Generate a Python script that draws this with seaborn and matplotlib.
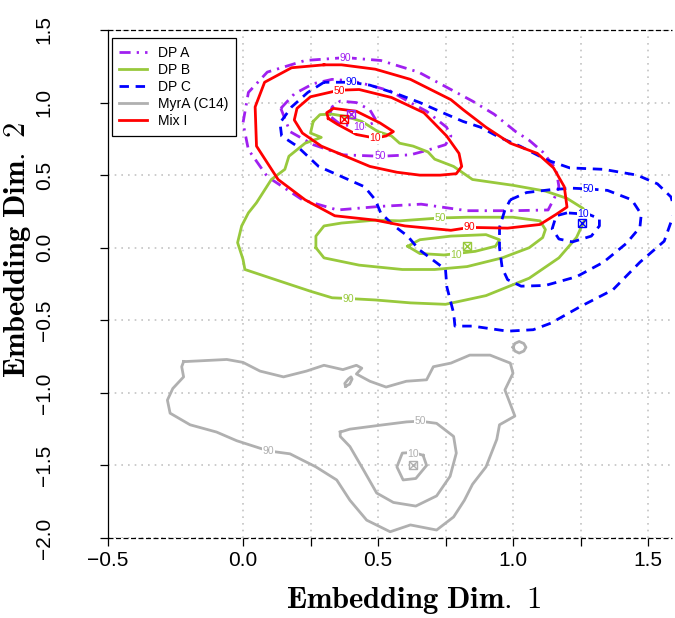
import numpy as np
import pandas as pd
import matplotlib
matplotlib.use("Agg")
import matplotlib.pyplot as plt
from matplotlib.lines import Line2D
import seaborn as sns

# contour outlines (Embedding Dim. 1, Embedding Dim. 2)
dpA_10 = [(0.32, 0.91), (0.33, 0.97), (0.36, 1.01), (0.42, 1.00), (0.47, 0.95), (0.495, 0.87),
          (0.445, 0.83), (0.36, 0.85), (0.32, 0.91)]
dpA_50 = [(0.14, 0.96), (0.174, 0.80), (0.26, 0.71), (0.37, 0.64), (0.51, 0.63), (0.62, 0.64),
          (0.68, 0.67), (0.75, 0.71), (0.77, 0.77), (0.754, 0.83), (0.68, 0.94), (0.62, 1.0),
          (0.545, 1.08), (0.47, 1.12), (0.40, 1.15), (0.33, 1.16), (0.26, 1.13), (0.19, 1.06),
          (0.14, 0.96)]
dpA_90 = [(0.38, 1.31), (0.51, 1.29), (0.65, 1.21), (0.77, 1.09), (0.85, 1.01), (0.93, 0.92),
          (1.01, 0.80), (1.06, 0.74), (1.11, 0.66), (1.16, 0.54), (1.17, 0.42), (1.155, 0.35),
          (1.13, 0.26), (1.0, 0.255), (0.83, 0.255), (0.66, 0.30), (0.51, 0.285), (0.35, 0.26),
          (0.22, 0.33), (0.09, 0.49), (0.02, 0.675), (0.0, 0.86), (0.02, 1.07), (0.09, 1.21),
          (0.23, 1.29), (0.38, 1.31)]

dpB_10 = [(0.61, 0.01), (0.655, 0.055), (0.77, 0.08), (0.90, 0.09), (0.95, 0.055), (0.935, 0.01),
          (0.86, -0.025), (0.745, -0.05), (0.655, -0.04), (0.61, 0.01)]
dpB_50 = [(0.27, 0.0), (0.27, 0.08), (0.30, 0.15), (0.365, 0.17), (0.49, 0.19), (0.58, 0.185),
          (0.73, 0.205), (0.83, 0.21), (1.0, 0.21), (1.10, 0.185), (1.12, 0.125), (1.11, 0.07),
          (1.06, 0.0), (0.96, -0.07), (0.83, -0.13), (0.71, -0.15), (0.59, -0.15), (0.43, -0.12),
          (0.30, -0.07), (0.27, 0.0)]
dpB_90 = [(0.26, 0.87), (0.285, 0.917), (0.33, 0.92), (0.38, 0.905), (0.44, 0.87), (0.50, 0.80),
          (0.55, 0.77), (0.58, 0.72), (0.63, 0.70), (0.685, 0.66), (0.71, 0.61), (0.78, 0.56),
          (0.85, 0.47), (1.0, 0.43), (1.12, 0.39), (1.20, 0.34), (1.26, 0.27), (1.27, 0.21),
          (1.235, 0.07), (1.17, -0.07), (1.06, -0.21), (0.90, -0.33), (0.75, -0.39), (0.62, -0.38),
          (0.49, -0.36), (0.39, -0.35), (0.33, -0.345), (0.25, -0.30), (0.12, -0.22),
          (0.007, -0.15), (0.0, -0.08), (-0.02, 0.035), (-0.005, 0.15), (0.02, 0.24), (0.05, 0.31),
          (0.105, 0.47), (0.155, 0.54), (0.17, 0.63), (0.23, 0.72), (0.29, 0.76), (0.25, 0.79),
          (0.26, 0.87)]

dpC_10 = [(1.20, 0.24), (1.16, 0.22), (1.145, 0.13), (1.17, 0.06), (1.22, 0.04), (1.29, 0.08),
          (1.32, 0.15), (1.32, 0.20), (1.28, 0.23), (1.20, 0.24)]
dpC_50 = [(0.99, 0.33), (1.05, 0.38), (1.14, 0.40), (1.22, 0.41), (1.28, 0.405), (1.35, 0.395),
          (1.44, 0.33), (1.475, 0.23), (1.47, 0.14), (1.42, 0.03), (1.335, -0.10), (1.235, -0.20),
          (1.12, -0.26), (1.03, -0.265), (0.98, -0.22), (0.96, -0.14), (0.95, 0.0), (0.95, 0.14),
          (0.97, 0.26), (0.99, 0.33)]
dpC_90 = [(0.30, 1.14), (0.24, 1.07), (0.18, 0.97), (0.137, 0.86), (0.143, 0.77), (0.20, 0.70),
          (0.28, 0.56), (0.365, 0.49), (0.45, 0.42), (0.49, 0.33), (0.51, 0.24), (0.56, 0.15),
          (0.61, 0.08), (0.65, -0.01), (0.70, -0.08), (0.75, -0.15), (0.755, -0.27), (0.78, -0.45),
          (0.785, -0.54), (0.85, -0.54), (0.98, -0.575), (1.075, -0.565), (1.14, -0.52),
          (1.25, -0.405), (1.37, -0.29), (1.47, -0.10), (1.56, 0.045), (1.60, 0.255),
          (1.585, 0.35), (1.535, 0.44), (1.46, 0.50), (1.335, 0.54), (1.21, 0.55), (1.125, 0.605),
          (1.026, 0.70), (0.95, 0.76), (0.88, 0.83), (0.815, 0.87), (0.74, 0.93), (0.655, 1.0),
          (0.57, 1.06), (0.47, 1.12), (0.40, 1.14), (0.30, 1.14)]

myr_10 = [(0.667, -1.43), (0.63, -1.41), (0.59, -1.415), (0.57, -1.51), (0.593, -1.60),
          (0.64, -1.59), (0.68, -1.50), (0.667, -1.43)]
myr_50 = [(0.36, -1.27), (0.396, -1.25), (0.52, -1.22), (0.606, -1.20), (0.656, -1.195),
          (0.717, -1.21), (0.78, -1.30), (0.79, -1.415), (0.767, -1.575), (0.717, -1.71),
          (0.64, -1.78), (0.557, -1.755), (0.495, -1.69), (0.446, -1.53), (0.396, -1.37),
          (0.36, -1.30), (0.36, -1.27)]
myr_90 = [(-0.22, -0.785), (-0.06, -0.77), (0.0, -0.79), (0.063, -0.85), (0.15, -0.89),
          (0.235, -0.85), (0.30, -0.81), (0.37, -0.84), (0.42, -0.81), (0.44, -0.83),
          (0.42, -0.87), (0.47, -0.92), (0.53, -0.96), (0.605, -0.92), (0.68, -0.91),
          (0.705, -0.82), (0.77, -0.795), (0.84, -0.74), (0.915, -0.74), (0.99, -0.795),
          (1.0, -0.865), (0.97, -0.98), (1.007, -1.16), (0.95, -1.22), (0.94, -1.32),
          (0.90, -1.51), (0.85, -1.63), (0.82, -1.74), (0.78, -1.855), (0.717, -1.945),
          (0.62, -1.91), (0.545, -1.957), (0.458, -1.877), (0.396, -1.74), (0.347, -1.60),
          (0.27, -1.51), (0.174, -1.42), (0.094, -1.40), (-0.023, -1.33), (-0.098, -1.27),
          (-0.196, -1.22), (-0.27, -1.14), (-0.28, -1.05), (-0.26, -0.97), (-0.22, -0.89),
          (-0.227, -0.82), (-0.22, -0.785)]
myr_90_islet_a = [(0.38, -0.955), (0.377, -0.935), (0.39, -0.905), (0.40, -0.89), (0.404, -0.905),
                  (0.395, -0.94), (0.38, -0.955)]
myr_90_islet_b = [(1.0, -0.686), (1.007, -0.66), (1.023, -0.646), (1.04, -0.66), (1.048, -0.686),
                  (1.04, -0.712), (1.023, -0.726), (1.007, -0.712), (1.0, -0.686)]

mix_10 = [(0.316, 0.89), (0.31, 0.93), (0.335, 0.96), (0.42, 0.94), (0.507, 0.86), (0.557, 0.80),
          (0.53, 0.77), (0.49, 0.755), (0.42, 0.78), (0.35, 0.85), (0.316, 0.89)]
mix_50 = [(0.355, 1.085), (0.25, 1.04), (0.20, 0.96), (0.19, 0.88), (0.22, 0.79), (0.29, 0.70),
          (0.38, 0.63), (0.47, 0.56), (0.57, 0.52), (0.655, 0.50), (0.73, 0.50), (0.79, 0.51),
          (0.81, 0.56), (0.80, 0.65), (0.754, 0.77), (0.67, 0.93), (0.55, 1.035), (0.43, 1.09),
          (0.355, 1.085)]
mix_90 = [(0.30, 1.26), (0.18, 1.24), (0.08, 1.14), (0.045, 0.97), (0.05, 0.70), (0.13, 0.47),
          (0.23, 0.33), (0.34, 0.22), (0.49, 0.19), (0.60, 0.15), (0.77, 0.12), (0.84, 0.14),
          (0.98, 0.135), (1.10, 0.16), (1.16, 0.23), (1.20, 0.28), (1.19, 0.42), (1.15, 0.55),
          (1.09, 0.65), (0.99, 0.72), (0.90, 0.83), (0.816, 0.95), (0.77, 1.02), (0.62, 1.16),
          (0.49, 1.23), (0.365, 1.26), (0.30, 1.26)]

# mode markers
mode_x = [0.40, 0.83, 1.255, 0.63, 0.375]
mode_y = [0.92, 0.01, 0.17, -1.495, 0.89]

# contour level labels: (group, text, x, y)
level_labels = [
    ("DP A", "10", 0.43, 0.83), ("DP A", "50", 0.51, 0.63), ("DP A", "90", 0.38, 1.31),
    ("DP B", "10", 0.79, -0.05), ("DP B", "50", 0.73, 0.205), ("DP B", "90", 0.39, -0.35),
    ("DP C", "10", 1.26, 0.23), ("DP C", "50", 1.28, 0.405), ("DP C", "90", 0.40, 1.14),
    ("MyrA (C14)", "10", 0.63, -1.42), ("MyrA (C14)", "50", 0.656, -1.195), ("MyrA (C14)", "90", 0.094, -1.40),
    ("Mix I", "10", 0.49, 0.755), ("Mix I", "50", 0.355, 1.08), ("Mix I", "90", 0.84, 0.145),
]

groups = ["DP A", "DP B", "DP C", "MyrA (C14)", "Mix I"]
contours = {
    "DP A": [dpA_10, dpA_50, dpA_90],
    "DP B": [dpB_10, dpB_50, dpB_90],
    "DP C": [dpC_10, dpC_50, dpC_90],
    "MyrA (C14)": [myr_10, myr_50, myr_90, myr_90_islet_a, myr_90_islet_b],
    "Mix I": [mix_10, mix_50, mix_90],
}

colors = {"DP A": "#a020f0", "DP B": "#98c93c", "DP C": "#0000ff",
          "MyrA (C14)": "#b0b0b0", "Mix I": "#ff0000"}
styles = {"DP A": (0, (4, 2.2, 0.8, 2.2)), "DP B": "-", "DP C": (0, (3.4, 2.4)),
          "MyrA (C14)": "-", "Mix I": "-"}

rows = []
for g in groups:
    for k, pts in enumerate(contours[g]):
        for i, (x, y) in enumerate(pts):
            rows.append((g, k, i, x, y))
df = pd.DataFrame(rows, columns=["group", "piece", "order", "x", "y"])

plt.rcParams["font.family"] = ["Liberation Sans", "DejaVu Sans"]
plt.rcParams["mathtext.fontset"] = "cm"

fig = plt.figure(figsize=(6.75, 6.18), dpi=100)
ax = fig.add_axes([108 / 675, 1 - 538 / 618, 564 / 675, 508 / 618])

for g in groups:
    sub = df[df["group"] == g]
    sns.lineplot(data=sub, x="x", y="y", units="piece", estimator=None, sort=False,
                 color=colors[g], linestyle=styles[g], linewidth=2.0, ax=ax, zorder=3,
                 solid_joinstyle="round", dash_joinstyle="round")

for g, txt, x, y in level_labels:
    ax.text(x, y, txt, color=colors[g], fontsize=7.5, ha="center", va="center", zorder=4,
            bbox=dict(facecolor="white", edgecolor="none", pad=0.4))

for g, x, y in zip(groups, mode_x, mode_y):
    ax.plot(x, y, marker="s", ms=6, mfc="none", mec=colors[g], mew=1.0, zorder=5)
    ax.plot(x, y, marker="x", ms=6, mec=colors[g], mew=1.0, zorder=5)

ax.set_xlim(-0.5, -0.5 + 564 / 270)
ax.set_ylim(-2.0, 1.5)
ax.set_xlabel("")
ax.set_ylabel("")

xt = [-0.5, 0.0, 0.25, 0.5, 0.75, 1.0, 1.25, 1.5]
xl = ["\u22120.5", "0.0", "", "0.5", "", "1.0", "", "1.5"]
yt = [-2.0, -1.5, -1.0, -0.5, 0.0, 0.5, 1.0, 1.5]
yl = ["\u22122.0", "\u22121.5", "\u22121.0", "\u22120.5", "0.0", "0.5", "1.0", "1.5"]
ax.set_xticks(xt, xl)
ax.set_yticks(yt, yl)
ax.grid(True, color="#c4c4c4", linestyle=(0, (1, 3)), linewidth=1.2, zorder=0)
ax.set_axisbelow(True)

for s in ["top", "right", "bottom"]:
    ax.spines[s].set_visible(False)
ax.spines["left"].set_linewidth(0.9)
ax.axhline(1.5, color="black", linestyle=(0, (4, 2)), linewidth=0.9, clip_on=False, zorder=2)
ax.axhline(-2.0, color="black", linestyle=(0, (4, 2)), linewidth=0.9, clip_on=False, zorder=2)

ax.tick_params(axis="both", direction="out", length=6, width=0.9, colors="black", labelsize=15)
ax.tick_params(axis="x", pad=3)
ax.tick_params(axis="y", pad=33, labelrotation=90)
for lbl in ax.get_yticklabels():
    lbl.set_verticalalignment("center")

fig.text(414 / 675, 1 - 600 / 618, r"$\mathbf{Embedding\ Dim.\ 1}$", fontsize=22,
         ha="center", va="center")
fig.text(18 / 675, 1 - 250 / 618, r"$\mathbf{Embedding\ Dim.\ 2}$", fontsize=22,
         ha="center", va="center", rotation=90)

handles = [Line2D([], [], color=colors[g], linestyle=styles[g], linewidth=2.0) for g in groups]
leg = ax.legend(handles, groups, loc="upper left", bbox_to_anchor=(111.7 / 675, 1 - 38.3 / 618),
                bbox_transform=fig.transFigure, borderaxespad=0, frameon=True, fancybox=False,
                edgecolor="black", framealpha=1, fontsize=10, handlelength=2.0,
                handletextpad=0.8, labelspacing=0.22, borderpad=0.55)
leg.get_frame().set_linewidth(0.9)

fig.savefig("out.png", dpi=100)
